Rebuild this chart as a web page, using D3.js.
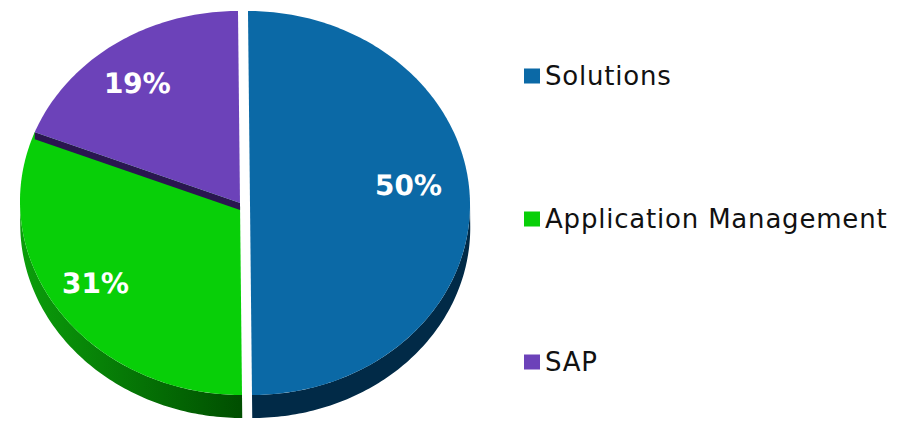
<!DOCTYPE html>
<html>
<meta charset="utf-8">
<style>
body { margin: 0; background: #fff; }
svg { display: block; }
.pct { font-family: "DejaVu Sans", Verdana, sans-serif; font-weight: bold; font-size: 28px; fill: #fff; }
.legend text { font-family: "DejaVu Sans", Verdana, sans-serif; font-size: 26px; letter-spacing: 0.8px; fill: #111; }
</style>
<head>
<script src="https://cdn.jsdelivr.net/npm/d3@7"></script>
</head>
<body>
<script>
// data
var categories = ["Solutions", "Application Management", "SAP"];
var shares = [50, 31, 19];
var pctLabels = ["50%", "31%", "19%"];

// look
var topColors = ["#0B69A6", "#08CF08", "#6C42B9"];
var wallColors = ["#012A47", "#005A00", "#2A1650"];
var explode = [10, 0, 0];
var labelNudge = [[-13, -18], [-3.5, -4], [-5, 3.5]];

var width = 905, height = 422;
var cx = 240, cy = 203, rx = 220, ry = 192, depth = 23, band = 7;

var svg = d3.select("body").append("svg")
    .attr("width", width)
    .attr("height", height);

var defs = svg.append("defs");
var grad = defs.append("linearGradient")
    .attr("id", "greenWall")
    .attr("x1", 0).attr("y1", 0).attr("x2", 1).attr("y2", 0);
grad.append("stop").attr("offset", 0).attr("stop-color", "#0B9E0B");
grad.append("stop").attr("offset", 1).attr("stop-color", "#004E00");

var pie = d3.pie().sort(null).value(function(d){ return d; });
var arcs = pie(shares);

function pt(a, k) {
  k = k || 1;
  return [k * rx * Math.sin(a), -k * ry * Math.cos(a)];
}
function arcPts(a0, a1) {
  var n = Math.max(2, Math.ceil((a1 - a0) * 60));
  return d3.range(n + 1).map(function(i){ return pt(a0 + (a1 - a0) * i / n); });
}
var line = d3.line();

var g = svg.append("g")
    .attr("transform", "translate(" + cx + "," + cy + ") skewX(0.6)");

// draw order: solutions, green, purple
[0, 1, 2].forEach(function(i) {
  var d = arcs[i];
  var mid = (d.startAngle + d.endAngle) / 2;
  var off = [explode[i] * Math.sin(mid), -explode[i] * Math.cos(mid)];
  var s = g.append("g").attr("transform", "translate(" + off[0] + "," + off[1] + ")");

  // outer wall, front half only
  var w0 = Math.max(d.startAngle, Math.PI / 2),
      w1 = Math.min(d.endAngle, 3 * Math.PI / 2);
  if (w1 > w0) {
    var topArc = arcPts(w0, w1);
    var botArc = topArc.map(function(p){ return [p[0], p[1] + depth]; }).reverse();
    s.append("path")
      .attr("d", line(topArc.concat(botArc)) + "Z")
      .attr("fill", i == 1 ? "url(#greenWall)" : wallColors[i]);
  }

  // radial edge of the back slice shows as a thin band
  if (i == 2) {
    var e = pt(d.startAngle);
    s.append("path")
      .attr("d", line([[0, 0], e, [e[0], e[1] + band], [0, band]]) + "Z")
      .attr("fill", wallColors[i]);
  }

  s.append("path")
    .attr("d", line([[0, 0]].concat(arcPts(d.startAngle, d.endAngle))) + "Z")
    .attr("fill", topColors[i]);

  var c = pt(mid, 0.78);
  s.append("text")
    .attr("class", "pct")
    .attr("x", c[0] + labelNudge[i][0])
    .attr("y", c[1] + labelNudge[i][1])
    .attr("dy", "0.36em")
    .attr("text-anchor", "middle")
    .text(pctLabels[i]);
});

// legend
var legend = svg.append("g").attr("class", "legend")
    .attr("transform", "translate(524,76)");
var item = legend.selectAll("g")
    .data(categories)
    .enter().append("g")
    .attr("transform", function(d, i){ return "translate(0," + (i * 143) + ")"; });
item.append("rect")
    .attr("x", 0).attr("y", -7.5)
    .attr("width", 16).attr("height", 15)
    .attr("fill", function(d, i){ return topColors[i]; });
item.append("text")
    .attr("x", 21).attr("y", 9)
    .text(function(d){ return d; });
</script>
</body>
</html>
